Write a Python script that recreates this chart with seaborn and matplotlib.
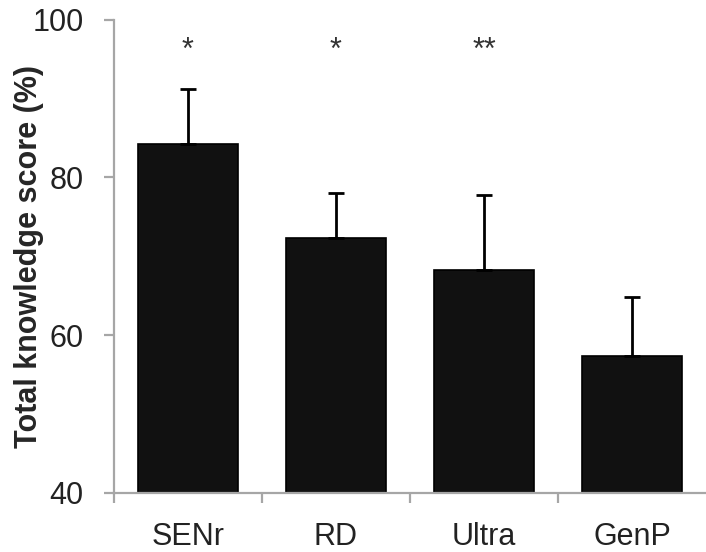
import numpy as np
import pandas as pd
import seaborn as sns
import matplotlib.pyplot as plt

# valores
grupos = ["SENr", "RD", "Ultra", "GenP"]
media = [84.2, 72.3, 68.3, 57.4]
error_sup = [7.0, 5.7, 9.5, 7.4]
signif = ["*", "*", "**", ""]

dat = pd.DataFrame({"grupo": grupos, "score": media})

sns.set_style("white")
plt.rcParams["font.family"] = ["Liberation Sans", "DejaVu Sans"]

gris = "#a6a6a6"
fig = plt.figure(figsize=(7.06, 5.52), dpi=100)
ax = fig.add_axes([114 / 706, 59 / 552, 1 - 114 / 706, (493 - 19.5) / 552])

sns.barplot(data=dat, x="grupo", y="score", color="#111111", edgecolor="black",
            linewidth=1.2, width=0.68, errorbar=None, saturation=1, ax=ax)

x = np.arange(len(grupos))
ax.errorbar(x, media, yerr=[np.zeros(len(grupos)), error_sup], fmt="none",
            ecolor="black", elinewidth=2, capsize=5.5, capthick=2)

for xi, s in zip(x, signif):
    if s:
        ax.text(xi, 95.0, s, ha="center", va="baseline", fontsize=22, color="#333333")

ax.set_ylim(40, 100)
ax.set_xlim(-0.5, 3.5)
ax.set_yticks([40, 60, 80, 100])
ax.set_xticks(x)
ax.set_xticklabels(grupos)
ax.set_xticks([-0.5, 0.5, 1.5, 2.5], minor=True)
ax.set_xlabel("")
ax.set_ylabel("Total knowledge score (%)", fontsize=22, fontweight="bold")
ax.yaxis.set_label_coords(-0.118, 0.5)

for lado in ["top", "right"]:
    ax.spines[lado].set_visible(False)
for lado in ["left", "bottom"]:
    ax.spines[lado].set_color(gris)
    ax.spines[lado].set_linewidth(1.6)

ax.tick_params(axis="y", which="major", direction="out", length=7, width=1.6,
               color=gris, labelsize=22, pad=15, left=True, labelcolor="#222222")
ax.tick_params(axis="x", which="major", length=0, labelsize=22, pad=21,
               labelcolor="#222222")
ax.tick_params(axis="x", which="minor", direction="out", length=7, width=1.6,
               color=gris, bottom=True)

fig.savefig("out.png", dpi=100)
